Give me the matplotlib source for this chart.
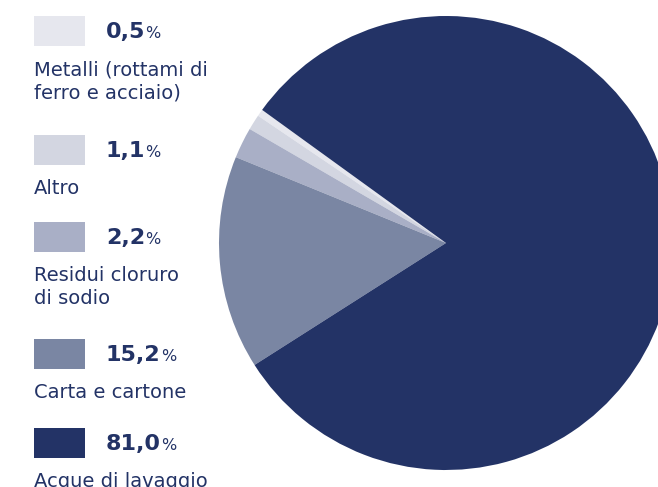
import matplotlib.pyplot as plt
from matplotlib.patches import Rectangle

W, H = 658, 487

labels = [
    "Metalli (rottami di\nferro e acciaio)",
    "Altro",
    "Residui cloruro\ndi sodio",
    "Carta e cartone",
    "Acque di lavaggio",
]
values = [0.5, 1.1, 2.2, 15.2, 81.0]
value_text = ["0,5", "1,1", "2,2", "15,2", "81,0"]
colors = ["#e6e7ee", "#d3d6e1", "#a9afc6", "#7a86a3", "#233366"]
TEXT = "#233366"

# legend block tops (pixels from top)
box_tops = [16, 135, 222, 339, 428]

fig = plt.figure(figsize=(W / 100, H / 100), dpi=100)

# pie: center (446, 243), radius 227 px
cx, cy, r = 446, 243, 227
pie_ax = fig.add_axes([(cx - r) / W, (H - cy - r) / H, 2 * r / W, 2 * r / H])
pie_ax.pie(values, colors=colors, startangle=144.1, counterclock=True,
           radius=1, wedgeprops=dict(linewidth=0))
pie_ax.set_xlim(-1, 1)
pie_ax.set_ylim(-1, 1)
pie_ax.set_aspect("equal")
pie_ax.axis("off")

# legend
leg = fig.add_axes([0, 0, 1, 1])
leg.set_xlim(0, W)
leg.set_ylim(H, 0)
leg.axis("off")

for lab, vt, col, top in zip(labels, value_text, colors, box_tops):
    leg.add_patch(Rectangle((34, top), 51, 30, facecolor=col, edgecolor="none"))
    num = leg.text(106, top + 22, vt, fontsize=16, fontweight="heavy",
                   family="DejaVu Sans", color=TEXT, va="baseline", ha="left")
    leg.annotate("%", xy=(1, 0), xycoords=num, xytext=(0, 0.5),
                 textcoords="offset points", fontsize=11.5, family="DejaVu Sans",
                 color=TEXT, va="bottom", ha="left")
    leg.text(34, top + 44, lab, fontsize=14, family="DejaVu Sans", color=TEXT,
             va="top", ha="left", linespacing=1.3)

fig.savefig("out.png", dpi=100)
